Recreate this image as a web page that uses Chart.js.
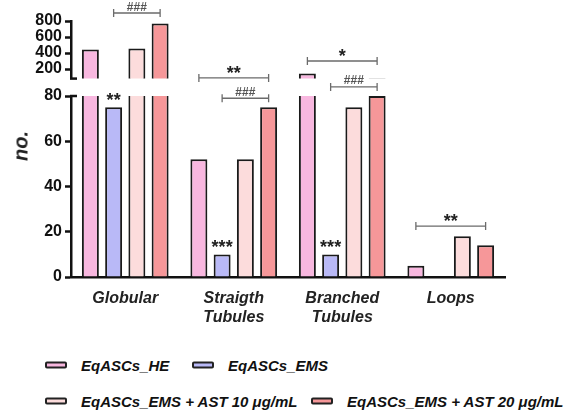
<!DOCTYPE html>
<html>
<head>
<meta charset="utf-8">
<script src="https://cdn.jsdelivr.net/npm/chart.js@4"></script>
<style>
  html, body { margin: 0; padding: 0; background: #fff; }
  #wrap { position: relative; width: 576px; height: 410px; overflow: hidden;
          font-family: 'Liberation Sans', Arial, sans-serif; }
  #wrap canvas { position: absolute; left: 0; }
  #upper { top: 0; }
  #lower { top: 70px; }
  #ytitle { position: absolute; left: 21px; top: 146px; transform: translate(-50%, -50%) rotate(-90deg);
            font: italic bold 20px 'Liberation Sans', Arial, sans-serif; color: #222; white-space: nowrap; }
  .leg { position: absolute; display: flex; align-items: center; white-space: nowrap;
         font: italic bold 15px 'Liberation Sans', Arial, sans-serif; color: #111; transform: translateY(-50%); }
  .leg .box { display: inline-block; width: 18px; height: 3px; border: 2px solid #222; border-radius: 2px; margin-right: 14px; }
</style>
</head>
<body>
<div id="wrap">
  <canvas id="upper" width="576" height="100"></canvas>
  <canvas id="lower" width="576" height="260"></canvas>
  <div id="ytitle">no.</div>
</div>
<script>
// data
const categories = ['Globular', ['Straigth', 'Tubules'], ['Branched', 'Tubules'], 'Loops'];
const seriesNames = ['EqASCs_HE', 'EqASCs_EMS', 'EqASCs_EMS + AST 10 μg/mL', 'EqASCs_EMS + AST 20 μg/mL'];
const heValues = [445, 52, 145, 5];
const emsValues = [75, 10, 10, 0];
const ast10Values = [455, 52, 75, 18];
const ast20Values = [770, 75, 80, 14];
const upperTicks = [200, 400, 600, 800];
const lowerTicks = [0, 20, 40, 60, 80];

// significance: bracket between two series of one category, level in panel units
const upperBrackets = [
    { cat: 0, from: 1, to: 3, level: 900, text: '###' },
    { cat: 1, from: 0, to: 3, level: 88, text: '**' },
    { cat: 2, from: 0, to: 3, level: 300, text: '*' }
];
const lowerBrackets = [
    { cat: 1, from: 1, to: 3, level: 79, text: '###' },
    { cat: 2, from: 1, to: 3, level: 84, text: '###' },
    { cat: 3, from: 0, to: 3, level: 22.5, text: '**' }
];
const barMarks = [
    { cat: 0, series: 1, text: '**' },
    { cat: 1, series: 1, text: '***' },
    { cat: 2, series: 1, text: '***' }
];

const seriesValues = [heValues, emsValues, ast10Values, ast20Values];
const seriesColors = ['#f8b7df', '#b9b9f7', '#fcdcdc', '#f69799'];

const FONT = "'Liberation Sans', Arial, sans-serif";
Chart.defaults.font.family = FONT;
Chart.defaults.color = '#111';

const AXIS_LEFT = 71;
const RIGHT_PAD = 71;

function drawSig(ctx, text, x, y) {
    ctx.textAlign = 'center';
    ctx.textBaseline = 'alphabetic';
    if (text.includes('#')) {
        ctx.font = `bold 12px ${FONT}`;
        ctx.fillStyle = '#555';
        ctx.fillText(text, x, y - 2.5);
    } else {
        ctx.font = `bold 18px ${FONT}`;
        ctx.fillStyle = '#222';
        ctx.fillText(text, x, y + 1);
    }
}

const sigPlugin = {
    id: 'sig',
    afterDatasetsDraw(chart, args, opts) {
        const ctx = chart.ctx;
        const y = chart.scales.y;
        ctx.save();
        (opts.brackets || []).forEach(b => {
            const x1 = chart.getDatasetMeta(b.from).data[b.cat].x;
            const x2 = chart.getDatasetMeta(b.to).data[b.cat].x;
            const py = y.getPixelForValue(b.level);
            ctx.strokeStyle = '#6b6b6b';
            ctx.lineWidth = 1.3;
            ctx.beginPath();
            ctx.moveTo(x1, py - 4); ctx.lineTo(x1, py + 4);
            ctx.moveTo(x1, py); ctx.lineTo(x2, py);
            ctx.moveTo(x2, py - 4); ctx.lineTo(x2, py + 4);
            ctx.stroke();
            drawSig(ctx, b.text, (x1 + x2) / 2, py);
        });
        (opts.marks || []).forEach(m => {
            const bar = chart.getDatasetMeta(m.series).data[m.cat];
            drawSig(ctx, m.text, bar.x, bar.y - 2);
        });
        ctx.restore();
    }
};

// little hook on the axis where it is broken
const breakPlugin = {
    id: 'brk',
    afterDraw(chart, args, opts) {
        const a = chart.chartArea;
        const ctx = chart.ctx;
        const yy = opts.edge === 'bottom' ? a.bottom : a.top;
        ctx.save();
        ctx.strokeStyle = '#111';
        ctx.lineWidth = 2.5;
        ctx.beginPath();
        ctx.moveTo(a.left - 1, yy);
        ctx.lineTo(a.left + 6, yy);
        ctx.stroke();
        ctx.restore();
    }
};

function makeDatasets() {
    return seriesValues.map((vals, i) => ({
        label: seriesNames[i],
        data: vals,
        backgroundColor: seriesColors[i],
        borderColor: '#1a1a1a',
        borderWidth: 2,
        borderSkipped: 'start',
        categoryPercentage: 0.857,
        barPercentage: 0.73,
        clip: 0
    }));
}

function makeChart(id, min, max, ticks, showX, padding, brackets, marks, edge) {
    const xScale = {
        display: showX,
        grid: { display: false, drawTicks: false },
        border: { display: true, color: '#111', width: 2.5 },
        ticks: {
            color: '#222',
            font: { size: 16, style: 'italic', weight: 'bold' },
            padding: 12,
            maxRotation: 0,
            autoSkip: false
        }
    };
    if (showX) xScale.afterFit = s => { s.height = 45; };

    return new Chart(document.getElementById(id), {
        type: 'bar',
        data: { labels: categories, datasets: makeDatasets() },
        options: {
            responsive: false,
            animation: false,
            layout: { padding },
            plugins: {
                legend: { display: false },
                tooltip: { enabled: false },
                sig: { brackets, marks },
                brk: { edge }
            },
            scales: {
                x: xScale,
                y: {
                    min, max,
                    afterBuildTicks: s => { s.ticks = ticks.map(v => ({ value: v })); },
                    afterFit: s => { s.width = AXIS_LEFT; },
                    border: { display: true, color: '#111', width: 2.5 },
                    grid: { display: true, drawOnChartArea: false, drawTicks: true,
                            tickLength: 6, tickWidth: 2.5, tickColor: '#111' },
                    ticks: { color: '#111', font: { size: 16, weight: 'bold', lineHeight: 1 },
                             padding: 3, autoSkip: false }
                }
            }
        },
        plugins: [sigPlugin, breakPlugin]
    });
}

makeChart('upper', 80, 800, upperTicks, false,
    { top: 21, bottom: 21.4, left: 0, right: RIGHT_PAD }, upperBrackets, [], 'bottom');
makeChart('lower', 0, 80, lowerTicks, true,
    { top: 26, bottom: 8, left: 0, right: RIGHT_PAD }, lowerBrackets, barMarks, 'top');

// legend, two rows like the original
const legendSpots = [[45, 365], [192, 365], [45, 401], [311, 401]];
const wrap = document.getElementById('wrap');
seriesNames.forEach((name, i) => {
    const item = document.createElement('div');
    item.className = 'leg';
    item.style.left = legendSpots[i][0] + 'px';
    item.style.top = legendSpots[i][1] + 'px';
    const box = document.createElement('span');
    box.className = 'box';
    box.style.background = seriesColors[i];
    item.appendChild(box);
    item.appendChild(document.createTextNode(name));
    wrap.appendChild(item);
});
</script>
</body>
</html>
